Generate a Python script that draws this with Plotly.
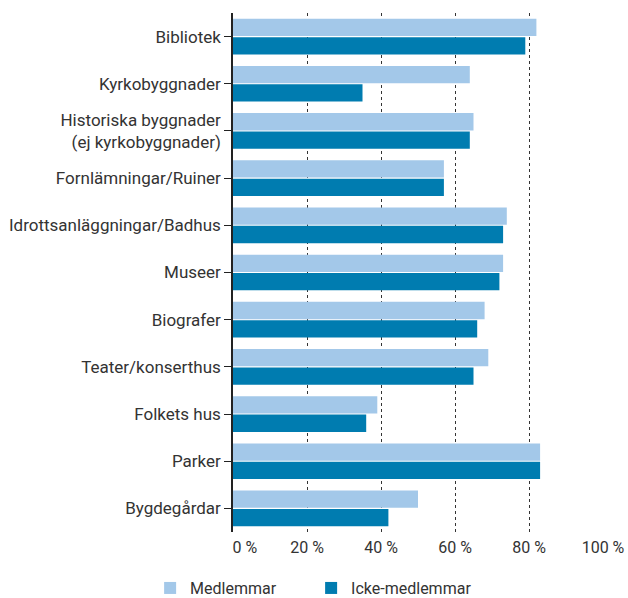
import plotly.graph_objects as go

categories = ["Bibliotek", "Kyrkobyggnader", "Historiska byggnader<br>(ej kyrkobyggnader)",
              "Fornlämningar/Ruiner", "Idrottsanläggningar/Badhus", "Museer", "Biografer",
              "Teater/konserthus", "Folkets hus", "Parker", "Bygdegårdar"]
medlemmar = [82, 64, 65, 57, 74, 73, 68, 69, 39, 83, 50]
icke_medlemmar = [79, 35, 64, 57, 73, 72, 66, 65, 36, 83, 42]
tick_vals = [0, 20, 40, 60, 80, 100]
tick_text = ["\u00a0\u00a0\u00a0\u00a0\u00a0\u00a00 %", "20 %", "40 %", "60 %", "80 %", "100 %"]

fig = go.Figure()
fig.add_trace(go.Bar(y=categories, x=medlemmar, orientation="h", name="Medlemmar",
                     marker=dict(color="#a3c8e9", line=dict(width=0))))
fig.add_trace(go.Bar(y=categories, x=icke_medlemmar, orientation="h", name="Icke-medlemmar",
                     marker=dict(color="#007cb0", line=dict(width=0))))

fig.update_layout(
    width=628, height=598,
    margin=dict(l=233, r=25, t=13, b=66, autoexpand=False),
    barmode="group", bargap=0.22, bargroupgap=0.06,
    plot_bgcolor="white", paper_bgcolor="white",
    font=dict(family="Roboto", size=16, color="#333333"),
    showlegend=True,
    legend=dict(orientation="h", x=-0.224, xanchor="left", y=-0.108, yanchor="middle",
                font=dict(size=16, color="#333333"), itemwidth=30, entrywidth=116,
                traceorder="normal"),
    xaxis=dict(range=[0, 100], tickvals=tick_vals, ticktext=tick_text, showgrid=True,
               gridcolor="#333333", griddash="dot", gridwidth=1, zeroline=False,
               showline=False, ticks="", tickfont=dict(size=16, color="#333333"),
               ticklabelstandoff=4, fixedrange=True, automargin=False),
    yaxis=dict(autorange="reversed", showline=True, linecolor="#222222", linewidth=1.5,
               ticks="outside", ticklen=7, tickcolor="#222222", tickwidth=1.2,
               showgrid=False, tickfont=dict(size=17, color="#333333"),
               automargin=False),
)
fig.write_html("out.html", config={"displayModeBar": False},
               post_script="document.body.style.margin='0';document.body.style.overflow='hidden';")
